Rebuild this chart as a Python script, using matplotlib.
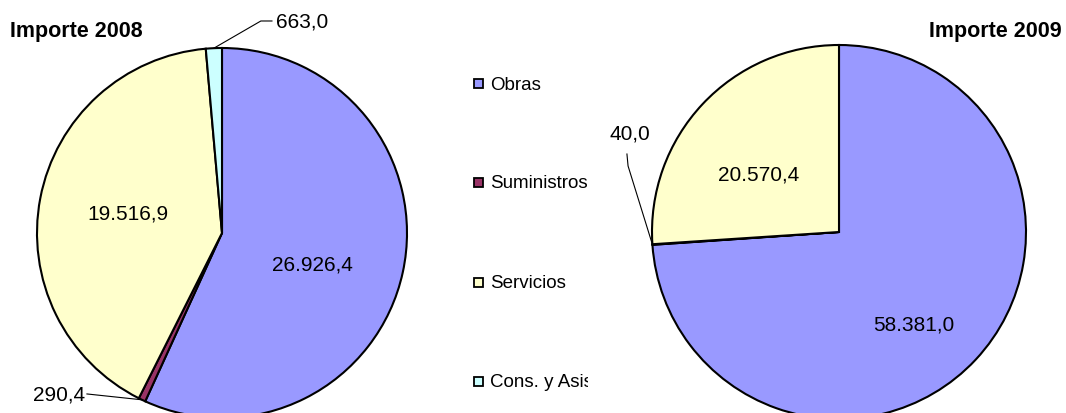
import numpy as np
import matplotlib.pyplot as plt
from matplotlib.patches import Rectangle

plt.rcParams['font.family'] = ['Liberation Sans', 'DejaVu Sans']

categories = ["Obras", "Suministros", "Servicios", "Cons. y Asis"]
colors = ["#9999FF", "#993366", "#FFFFCC", "#CCFFFF"]

values_2008 = [26926.4, 290.4, 19516.9, 663.0]
values_2009 = [58381.0, 40.0, 20570.4, 0.0]
labels_2008 = ["26.926,4", "290,4", "19.516,9", "663,0"]
labels_2009 = ["58.381,0", "40,0", "20.570,4", ""]

W, H = 1066, 414
fig = plt.figure(figsize=(W / 100, H / 100), dpi=100)


def pie_axes(cx, cy, r):
    # pixel centre/radius -> figure axes with data unit = radius
    return fig.add_axes([(cx - r) / W, (H - cy - r) / H, 2 * r / W, 2 * r / H])


def draw_pie(ax, values, labels, inside, small):
    vals = [v for v in values if v > 0]
    cols = [c for v, c in zip(values, colors) if v > 0]
    labs = [l for v, l in zip(values, labels) if v > 0]
    wedges, _ = ax.pie(vals, colors=cols, startangle=90, counterclock=False,
                       radius=1.0, wedgeprops=dict(edgecolor="black", linewidth=1.5))
    ax.set_xlim(-1, 1)
    ax.set_ylim(-1, 1)
    ax.set_aspect("equal")
    ax.axis("off")
    for w, lab in zip(wedges, labs):
        mid = np.deg2rad((w.theta1 + w.theta2) / 2)
        if lab in small:
            tx, ty, ha, path = small[lab]
            ex, ey = np.cos(mid), np.sin(mid)
            xs = [ex] + [p[0] for p in path]
            ys = [ey] + [p[1] for p in path]
            ax.plot(xs, ys, color="black", lw=0.8, clip_on=False)
            ax.text(tx, ty, lab, ha=ha, va="center", fontsize=15, clip_on=False)
        else:
            tx, ty = inside[lab]
            ax.text(tx, ty, lab, ha="center", va="center", fontsize=15)
    return wedges


# left pie
ax1 = pie_axes(222, 234, 185)
draw_pie(ax1, values_2008, labels_2008,
         {"26.926,4": (0.49, -0.17), "19.516,9": (-0.51, 0.11)},
         {"663,0": (0.29, 1.146, "left", [(0.21, 1.146), (0.27, 1.146)]),
          "290,4": (-0.74, -0.87, "right", [(-0.73, -0.87)])})

# right pie
ax2 = pie_axes(839, 233, 187)
draw_pie(ax2, values_2009, labels_2009,
         {"58.381,0": (0.40, -0.49), "20.570,4": (-0.43, 0.31)},
         {"40,0": (-1.12, 0.53, "center", [(-1.128, 0.353), (-1.134, 0.417)])})

fig.text(10 / W, 1 - 31 / H, "Importe 2008", fontsize=15.5, fontweight="bold",
         ha="left", va="center")
fig.text(1062 / W, 1 - 31 / H, "Importe 2009", fontsize=15.5, fontweight="bold",
         ha="right", va="center")

# legend, clipped on the right like the original
lx0, lx1 = 465, 588
lax = fig.add_axes([lx0 / W, 0, (lx1 - lx0) / W, 1])
lax.set_xlim(lx0, lx1)
lax.set_ylim(H, 0)
lax.axis("off")
rows = [85, 184, 284, 383]
for cat, col, y in zip(categories, colors, rows):
    lax.add_patch(Rectangle((474, y - 5), 9, 9, facecolor=col, edgecolor="black",
                            linewidth=1.3, clip_on=False))
    lax.text(490, y, cat, fontsize=13.5, ha="left", va="center", clip_on=True)

fig.savefig("out.png", dpi=100)
